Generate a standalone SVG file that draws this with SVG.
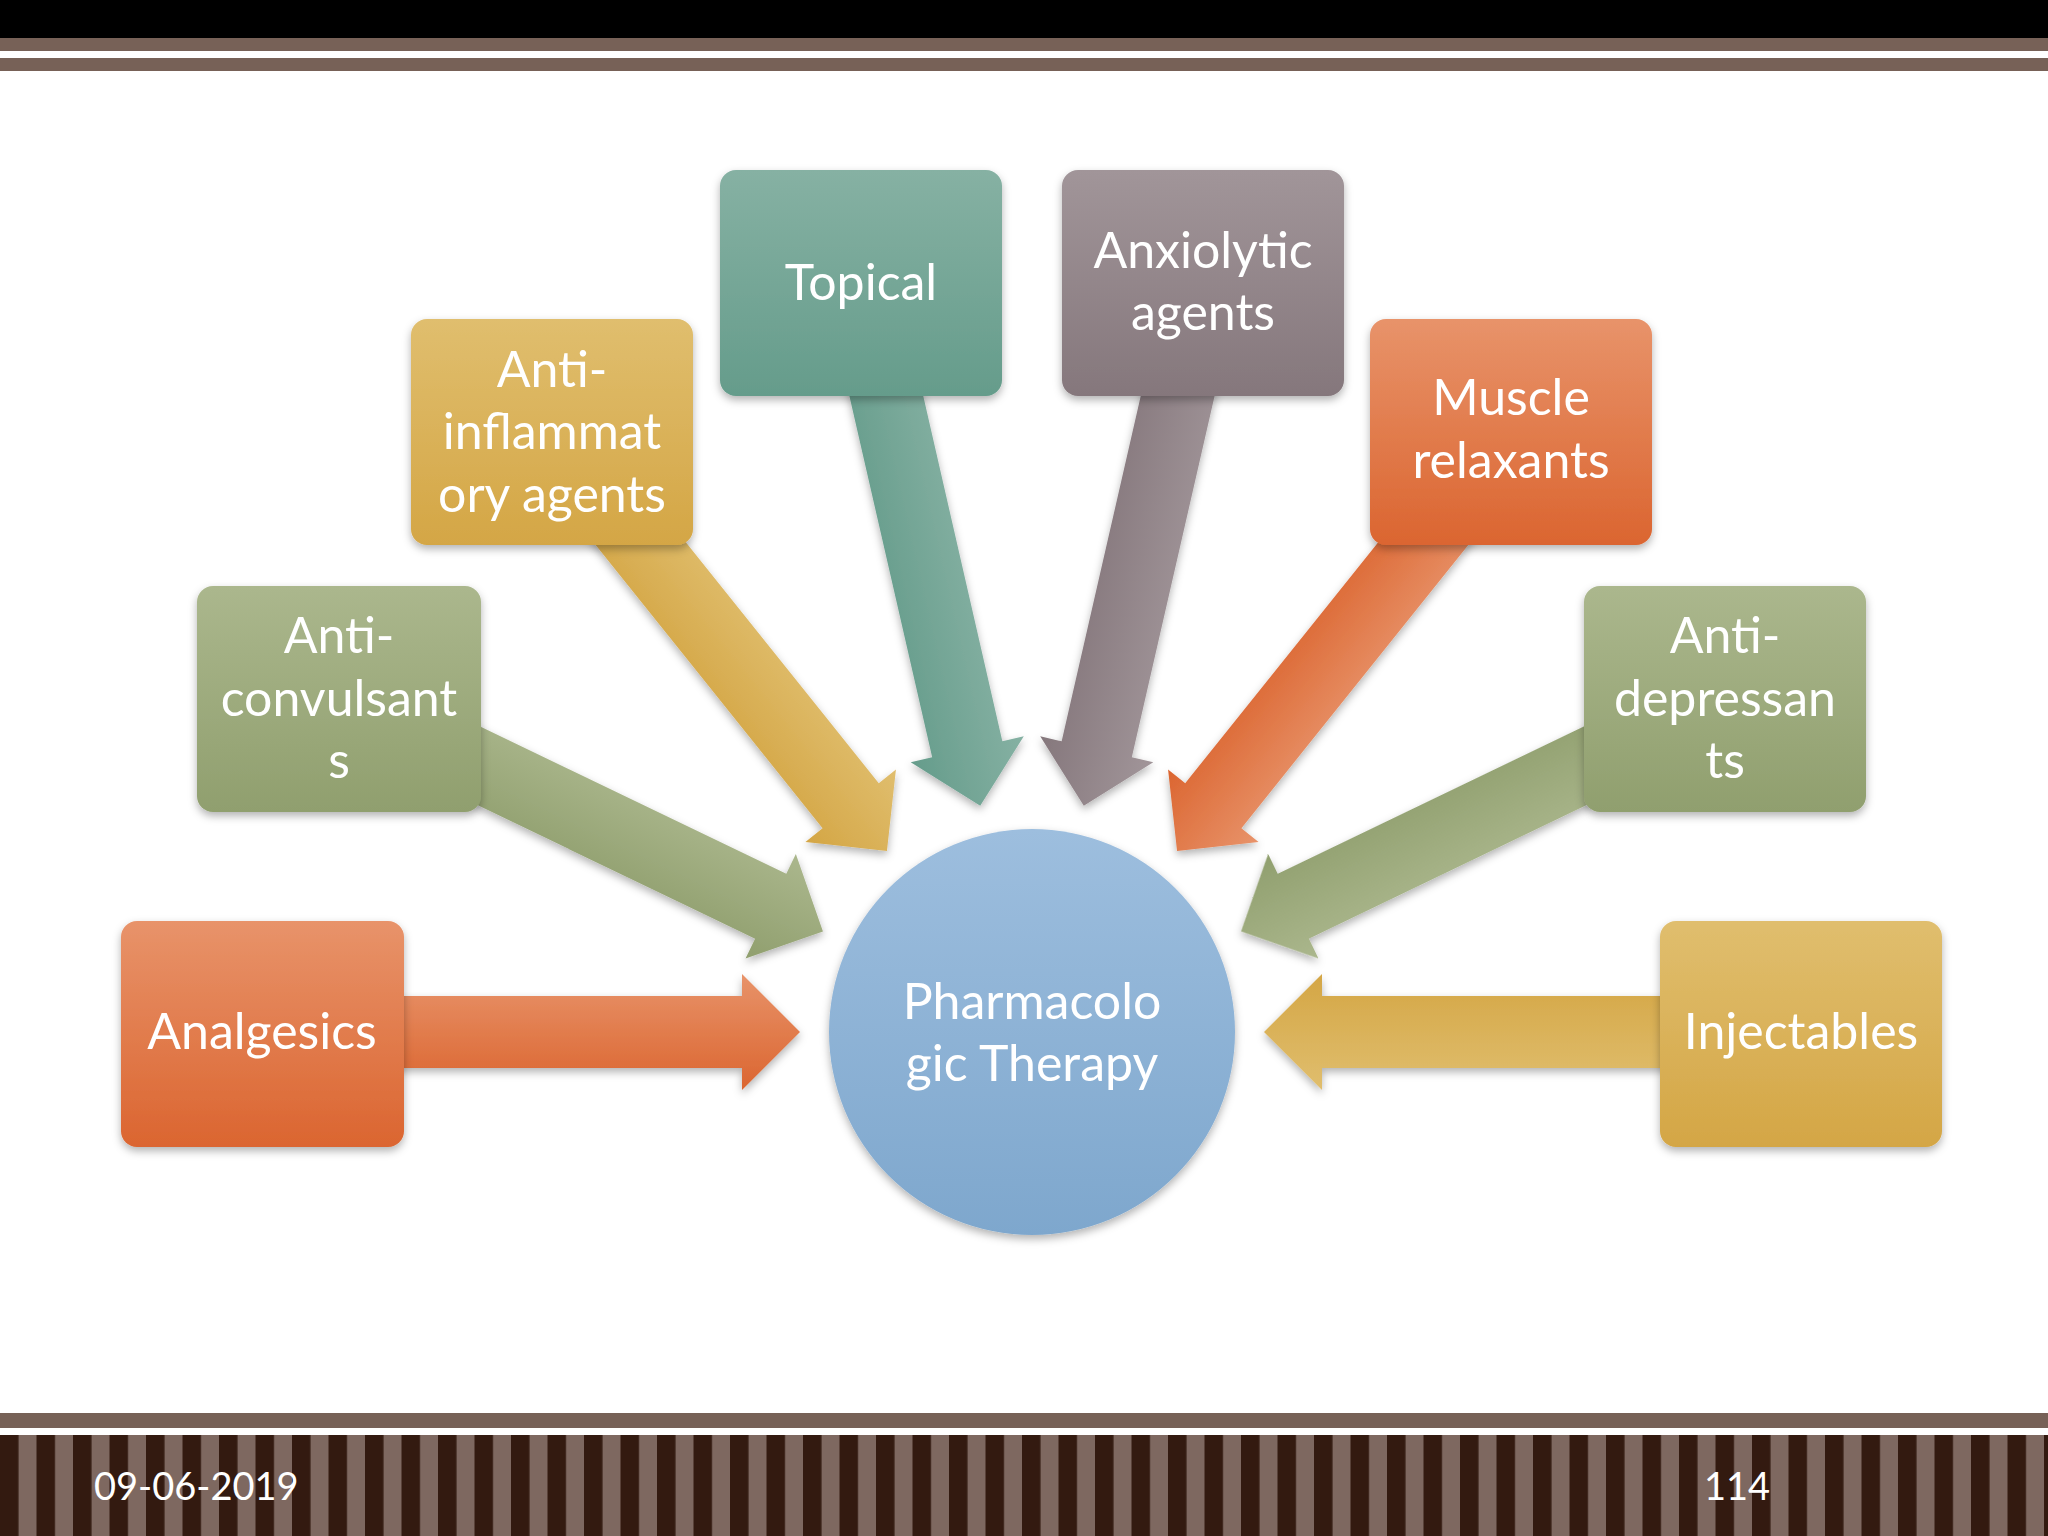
<svg xmlns="http://www.w3.org/2000/svg" width="2048" height="1536" viewBox="0 0 2048 1536">
<defs>
<linearGradient id="gO" x1="0" y1="0" x2="0" y2="1"><stop offset="0" stop-color="#E8936A"/><stop offset="1" stop-color="#DB6530"/></linearGradient>
<linearGradient id="gY" x1="0" y1="0" x2="0" y2="1"><stop offset="0" stop-color="#E0BE6E"/><stop offset="1" stop-color="#D4A645"/></linearGradient>
<linearGradient id="gT" x1="0" y1="0" x2="0" y2="1"><stop offset="0" stop-color="#86B1A3"/><stop offset="1" stop-color="#659C8B"/></linearGradient>
<linearGradient id="gM" x1="0" y1="0" x2="0" y2="1"><stop offset="0" stop-color="#A19599"/><stop offset="1" stop-color="#85777C"/></linearGradient>
<linearGradient id="gG" x1="0" y1="0" x2="0" y2="1"><stop offset="0" stop-color="#ABB78D"/><stop offset="1" stop-color="#909F6E"/></linearGradient>
<linearGradient id="gB" x1="0" y1="0" x2="0" y2="1"><stop offset="0" stop-color="#9DBEDE"/><stop offset="1" stop-color="#7EA7CD"/></linearGradient>
<filter id="sh" x="-10%" y="-10%" width="120%" height="130%"><feDropShadow dx="0" dy="4" stdDeviation="4" flood-color="#000" flood-opacity="0.3"/></filter>
<pattern id="stripes" x="0" y="0" width="36.5" height="110" patternUnits="userSpaceOnUse"><rect width="36.5" height="110" fill="#7E6860"/><rect width="18.5" height="110" fill="#331A10"/></pattern>
<polygon id="arr" points="-768,-36 -290,-36 -290,-58 -232,0 -290,58 -290,36 -768,36"/>
</defs>
<style>
.t{font-family:Lato,"Open Sans",sans-serif;font-size:50px;fill:#fff;text-anchor:middle}
.f{font-family:Lato,"Open Sans",sans-serif;font-size:38px;fill:#fff}
</style>
<rect width="2048" height="1536" fill="#fff"/>
<rect x="0" y="0" width="2048" height="38" fill="#000"/>
<rect x="0" y="38" width="2048" height="13" fill="#776157"/>
<rect x="0" y="58" width="2048" height="13" fill="#776157"/>
<rect x="0" y="1413" width="2048" height="15" fill="#776157"/>
<rect x="0" y="1435" width="2048" height="101" fill="url(#stripes)"/>
<text class="f" x="94" y="1500">09-06-2019</text>
<text class="f" x="1770" y="1500" text-anchor="end">114</text>
<g id="connectors" filter="url(#sh)" transform="translate(1032,1032)">
<use href="#arr" fill="url(#gO)" transform="rotate(0)"/>
<use href="#arr" fill="url(#gG)" transform="rotate(25.7)"/>
<use href="#arr" fill="url(#gY)" transform="rotate(51.3)"/>
<use href="#arr" fill="url(#gT)" transform="rotate(77.1)"/>
<use href="#arr" fill="url(#gM)" transform="rotate(102.9)"/>
<use href="#arr" fill="url(#gO)" transform="rotate(128.7)"/>
<use href="#arr" fill="url(#gG)" transform="rotate(154.3)"/>
<use href="#arr" fill="url(#gY)" transform="rotate(180)"/>
</g>
<g id="center" filter="url(#sh)"><circle cx="1032" cy="1032" r="203" fill="url(#gB)"/>
<text class="t"><tspan x="1032" y="1019">Pharmacolo</tspan><tspan x="1032" y="1081">gic Therapy</tspan></text></g>
<g id="analgesics" filter="url(#sh)"><rect x="121" y="921" width="283" height="226" rx="16" fill="url(#gO)"/><text class="t" x="262" y="1049">Analgesics</text></g>
<g id="anticonvulsants" filter="url(#sh)"><rect x="197" y="586" width="284" height="226" rx="16" fill="url(#gG)"/><text class="t"><tspan x="339" y="653">Anti-</tspan><tspan x="339" y="716">convulsant</tspan><tspan x="339" y="778">s</tspan></text></g>
<g id="antiinflammatory" filter="url(#sh)"><rect x="411" y="319" width="282" height="226" rx="16" fill="url(#gY)"/><text class="t"><tspan x="552" y="387">Anti-</tspan><tspan x="552" y="449">inflammat</tspan><tspan x="552" y="512">ory agents</tspan></text></g>
<g id="topical" filter="url(#sh)"><rect x="720" y="170" width="282" height="226" rx="16" fill="url(#gT)"/><text class="t" x="861" y="300">Topical</text></g>
<g id="anxiolytic" filter="url(#sh)"><rect x="1062" y="170" width="282" height="226" rx="16" fill="url(#gM)"/><text class="t"><tspan x="1203" y="268">Anxiolytic</tspan><tspan x="1203" y="330">agents</tspan></text></g>
<g id="muscle" filter="url(#sh)"><rect x="1370" y="319" width="282" height="226" rx="16" fill="url(#gO)"/><text class="t"><tspan x="1511" y="415">Muscle</tspan><tspan x="1511" y="478">relaxants</tspan></text></g>
<g id="antidepressants" filter="url(#sh)"><rect x="1584" y="586" width="282" height="226" rx="16" fill="url(#gG)"/><text class="t"><tspan x="1725" y="653">Anti-</tspan><tspan x="1725" y="716">depressan</tspan><tspan x="1725" y="778">ts</tspan></text></g>
<g id="injectables" filter="url(#sh)"><rect x="1660" y="921" width="282" height="226" rx="16" fill="url(#gY)"/><text class="t" x="1801" y="1049">Injectables</text></g>
</svg>
